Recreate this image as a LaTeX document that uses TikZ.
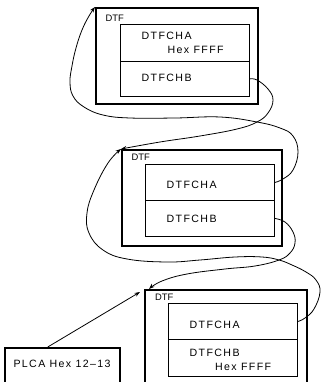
\documentclass[tikz,border=0pt]{standalone}
\usepackage{fontspec}
\setmainfont{Liberation Sans}
\newfontfamily\cellfont[LetterSpace=13]{Liberation Sans}
\usetikzlibrary{arrows.meta}

\tikzset{
  outerbox/.style={draw, line width=2pt, minimum width=162pt, minimum height=96pt,
    anchor=north west, inner sep=0pt},
  cellbox/.style={draw, line width=0.9pt, minimum width=129pt, anchor=north west, inner sep=0pt},
  plcabox/.style={draw, line width=1.5pt, minimum width=115pt, minimum height=60pt,
    anchor=north west, inner sep=0pt},
  lbl/.style={anchor=base west, inner sep=0pt, font=\fontsize{10.6}{12}\cellfont},
  dtflbl/.style={anchor=base west, inner sep=0pt, font=\fontsize{9.4}{11}\selectfont},
  link/.style={line width=0.8pt, -{Stealth[length=5.5pt,width=4pt]}},
}

\begin{document}
\begin{tikzpicture}[x=1pt,y=-1pt]
\path[use as bounding box] (0,0) rectangle (321,382);
\clip (0,0) rectangle (321,382);

% first DTF
\node[outerbox] (o1) at (95,7) {};
\node[cellbox, minimum height=37pt] (a1) at (120,24) {};
\node[cellbox, minimum height=35pt] (b1) at (120,61) {};
\node[dtflbl] (d1) at (105.5,21.7) {DTF};
\node[lbl] (ta1) at (141.5,40) {DTFCHA};
\node[lbl] (ha1) at (167.5,53.3) {Hex FFFF};
\node[lbl] (tb1) at (141.5,81.5) {DTFCHB};

% second DTF
\node[outerbox, minimum width=160pt] (o2) at (121,149) {};
\node[cellbox, minimum height=36pt] (a2) at (145,164) {};
\node[cellbox, minimum height=36pt] (b2) at (145,200) {};
\node[dtflbl] (d2) at (131.5,160.7) {DTF};
\node[lbl] (ta2) at (166.5,188.3) {DTFCHA};
\node[lbl] (tb2) at (166.5,222.7) {DTFCHB};

% third DTF
\node[outerbox] (o3) at (144,289) {};
\node[cellbox, minimum height=36pt] (a3) at (168,303) {};
\node[cellbox, minimum height=37pt] (b3) at (168,339) {};
\node[dtflbl] (d3) at (155,300.3) {DTF};
\node[lbl] (ta3) at (189.5,328.3) {DTFCHA};
\node[lbl] (tb3) at (189.5,356) {DTFCHB};
\node[lbl] (hb3) at (215,370) {Hex FFFF};

% anchor block
\node[plcabox] (plca) at (4,347) {};
\node[lbl] (tp) at (13.3,367.7) {PLCA Hex 12–13};

% forward chain (DTFCHB -> next DTF)
\draw[link] plot[smooth, tension=0.7] coordinates {(b1.east) (257,80) (268,89) (273,100)
  (268,113) (257,122) (237,129) (200,136) (160,142) (o2.north west)};
\draw[link] plot[smooth, tension=0.7] coordinates {(b2.east) (285,222) (293,232) (295,243)
  (290,253) (279,260) (255,266) (225,269) (187,274) (162,281) ([xshift=5pt]o3.north west)};

% backward chain (DTFCHA -> previous DTF)
\draw[link] plot[smooth, tension=0.7] coordinates {(a2.east) (283,179) (293,170) (298,152)
  (293,136) (280,128) (257,122) (220,117) (175,118) (130,118) (103,115) (84,107) (73,96)
  (70,82) (72,66) (76,48) (82,30) (89,16) (o1.north west)};
\draw[link] plot[smooth, tension=0.7] coordinates {(a3.east) (305,318) (314,309) (320,292)
  (316,280) (306,272) (292,265) (279,260) (262,257) (235,257) (200,260) (167,262) (127,259)
  (103,250) (89,233) (87,213) (94,190) (108,163) (o2.north west)};

% pointer from PLCA
\draw[link] ([xshift=-14.5pt]plca.north) -- ([shift={(-4,3)}]o3.north west);
\end{tikzpicture}
\end{document}
